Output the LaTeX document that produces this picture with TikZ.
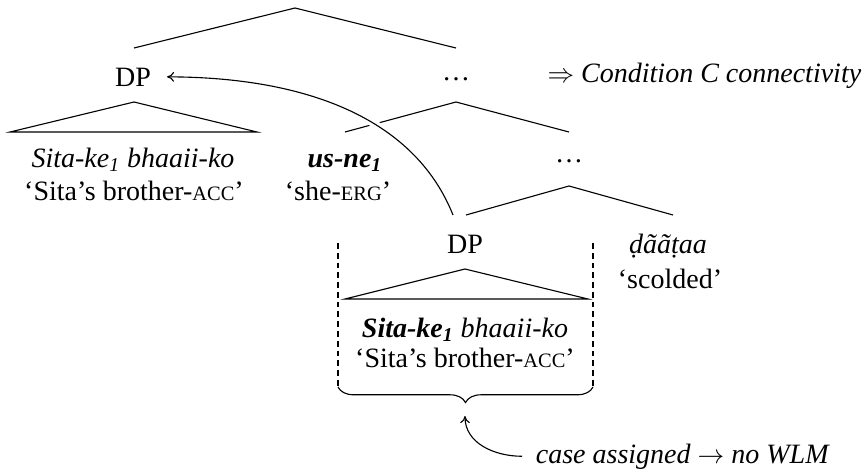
\documentclass[tikz,border=0pt]{standalone}
\usepackage{fontspec}
\setmainfont{Liberation Serif}
\usetikzlibrary{decorations.pathreplacing,calc,arrows.meta}
\newcommand\smcap[1]{{\fontsize{9.2}{11}\selectfont #1}}
\newcommand\ix{\textsubscript{1}}
\begin{document}
\begin{tikzpicture}[x=0.45pt,y=0.45pt,
  font=\fontsize{12.6}{15}\selectfont,
  line width=0.5pt,
  lbl/.style={anchor=base, inner sep=0pt},
  branch/.style={line width=0.5pt},
  movearrow/.style={-{To[length=3.2pt,width=4.4pt]}},
  guide/.style={dash pattern=on 2.6pt off 1.8pt}]
\useasboundingbox (0,0) rectangle (866,-475);

% labels of the tree
\coordinate (root) at (295,-8);
\node[lbl, inner xsep=7] (dpA) at (133,-86) {DP};
\node[lbl] (dotsA) at (456,-80) {\ldots};
\node[lbl, anchor=base west] (concl) at (547,-82) {$\Rightarrow$ \textit{Condition C connectivity}};
\node[lbl] (sitaA) at (133,-167) {\textit{Sita-ke\ix{} bhaaii-ko}};
\node[lbl] (glossA) at (134,-200) {‘Sita’s brother-\smcap{ACC}’};
\node[lbl] (usne) at (345,-167) {\textbf{\textit{us-ne\ix}}};
\node[lbl] (she) at (338,-200) {‘she-\smcap{ERG}’};
\node[lbl] (dotsB) at (569,-162) {\ldots};
\node[lbl] (dpB) at (465,-253) {DP};
\node[lbl] (dataa) at (668,-253) {\textit{ḍããṭaa}};
\node[lbl] (scolded) at (670,-288) {‘scolded’};
\node[lbl] (sitaB) at (465,-337) {\textbf{\textit{Sita-ke\ix}} \textit{bhaaii-ko}};
\node[lbl] (glossB) at (465,-367) {‘Sita’s brother-\smcap{ACC}’};
\node[lbl, anchor=base west, inner xsep=6] (case) at (522,-463) {\textit{case assigned} $\rightarrow$ \textit{no WLM}};

% branch ends
\coordinate (dpAtop) at ($(dpA.base)+(1,38)$);
\coordinate (dotsAtop) at ($(dotsA.base)+(0,32)$);
\coordinate (dotsAbot) at ($(dotsA.base)+(0,-22)$);
\coordinate (usnetop) at ($(usne.base)+(0,35)$);
\coordinate (dotsBtop) at ($(dotsB.base)+(0,30)$);
\coordinate (dotsBbot) at ($(dotsB.base)+(0,-24)$);
\coordinate (dpBtop) at ($(dpB.base)+(1,38)$);
\coordinate (dataatop) at ($(dataa.base)+(5,38)$);

% branches
\draw[branch] (dpAtop) -- (root) -- (dotsAtop);
\draw[branch] (usnetop) -- (dotsAbot) -- (dotsBtop);
\draw[branch] (dpBtop) -- (dotsBbot) -- (dataatop);

% triangles
\draw[branch] ($(dpA.base)+(1,-16)$) coordinate (triAtop)
  -- ($(dpA.base)+(-123,-46)$) coordinate (triAl)
  -- ($(dpA.base)+(124,-46)$) coordinate (triAr) -- cycle;
\draw[branch] ($(dpB.base)+(0,-16)$) coordinate (triBtop)
  -- ($(dpB.base)+(-120,-46)$) coordinate (triBl)
  -- ($(dpB.base)+(123,-46)$) coordinate (triBr) -- cycle;

% movement arrow
\coordinate (movestart) at ($(dpB.base)+(-12,38)$);
\draw[movearrow, preaction={draw=white, line width=3.5pt, -}]
  (movestart) .. controls (413,-115) and (300,-77) .. (dpA.east);

% dashed guides and brace
\coordinate (gtl) at (338,-243);
\coordinate (gbl) at (338,-387);
\coordinate (gtr) at (593,-243);
\coordinate (gbr) at (593,-387);
\draw[guide] (gtl) -- (gbl);
\draw[guide] (gtr) -- (gbr);
\draw[decorate, decoration={brace, mirror, amplitude=7pt}] (gbl) -- (gbr);
\coordinate (bracetip) at (465,-416);
\draw[movearrow] (case.west) to[out=180, in=-90] (bracetip);
\end{tikzpicture}
\end{document}
